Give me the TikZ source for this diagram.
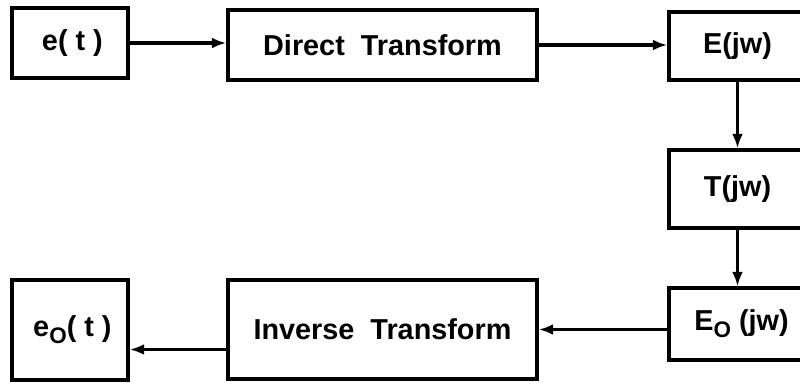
\documentclass[tikz,border=0pt]{standalone}
\usepackage{fontspec}
\setmainfont{Liberation Sans}
\usepackage{tikz}
\usetikzlibrary{arrows.meta,positioning}
\newcommand{\lowidx}[1]{\raisebox{-0.45ex}{\fontsize{16}{16}\selectfont #1}}

\begin{document}
\begin{tikzpicture}[
  blk/.style={draw=black,line width=2.4pt,minimum height=1.75cm,
              align=center,inner sep=2pt,
              font=\fontsize{20.5}{24}\selectfont\bfseries},
  arr/.style={-{Latex[length=0.36cm,width=0.27cm]},line width=2.4pt},
]
\useasboundingbox (0,0) rectangle (20,9.575);
\node[blk,minimum width=2.9cm] (et) at (1.75,8.5) {\,e( t )};
\node[blk,minimum width=7.725cm] (direct) at (9.5625,8.45) {Direct\ \ Transform};
\node[blk,minimum width=3.425cm,minimum height=1.7cm] (Ejw) at (18.4375,8.425) {E(jw)};
\node[blk,minimum width=3.425cm,minimum height=1.95cm] (Tjw) at (18.4375,4.85) {T(jw)};
\node[blk,minimum width=3.425cm,minimum height=1.8cm] (Eojw) at (18.4375,1.475) {\ E\lowidx{O} (jw)};
\node[blk,minimum width=7.725cm,minimum height=2.475cm] (inverse) at (9.5625,1.3375) {Inverse\ \ Transform};
\node[blk,minimum width=2.9cm,minimum height=2.5cm] (eot) at (1.75,1.325) {\,e\lowidx{O}( t )};
\coordinate (ret) at ([yshift=-0.5cm]inverse.west);
\draw[arr] (et.east) -- (et.east -| direct.west);
\draw[arr] (direct.east) -- (direct.east -| Ejw.west);
\draw[arr] (Ejw.south) -- (Tjw.north);
\draw[arr] (Tjw.south) -- (Eojw.north);
\draw[arr] (Eojw.west |- inverse.east) -- (inverse.east);
\draw[arr] (ret) -- (ret -| eot.east);
\end{tikzpicture}
\end{document}
